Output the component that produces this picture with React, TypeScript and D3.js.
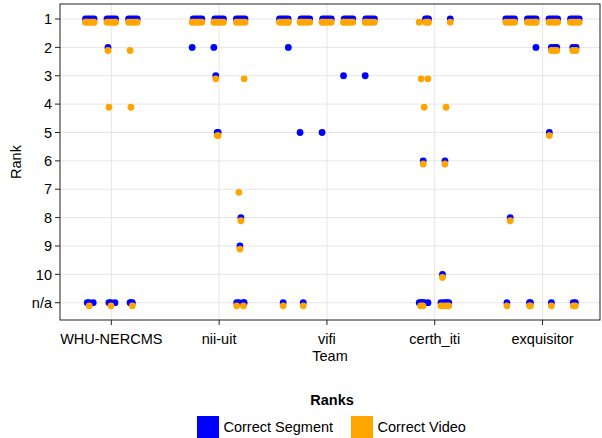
import React from "react";
import * as d3 from "d3";

// categories
const teams = ["WHU-NERCMS", "nii-uit", "vifi", "certh_iti", "exquisitor"];
const runsPerTeam = [3, 3, 5, 2, 4];
const rankTicks = ["1", "2", "3", "4", "5", "6", "7", "8", "9", "10", "n/a"];
const NA = 11;

const seriesNames = ["Correct Segment", "Correct Video"];
const seriesColors = ["#0000ff", "#ffa500"];

// every run has a bunch of tasks found at rank 1
const rank1Jitter = [-0.04, -0.02, 0, 0.02, 0.04];

// [run, jitter, segment rank, video rank]
const whuTasks = [
  [0, -0.023, NA, 1], [0, -0.005, NA, NA], [0, 0.032, NA, 1],
  [1, -0.031, 2, 2], [1, -0.022, NA, 4], [1, -0.003, NA, NA], [1, 0.034, NA, 1],
  [2, -0.026, NA, 2], [2, -0.018, NA, 4], [2, -0.005, NA, NA],
];
const niiTasks = [
  [0, -0.05, 2, 1],
  [1, -0.049, 2, 1], [1, -0.031, 3, 3], [1, -0.018, 5, 5], [1, -0.009, 5, 5],
  [2, 0.032, NA, 3], [2, -0.017, NA, 7], [2, 0.002, 8, 8], [2, -0.007, 9, 9],
  [2, -0.037, NA, NA], [2, 0.025, NA, NA],
];
const vifiTasks = [
  [0, 0.042, 2, 1], [0, -0.006, NA, NA],
  [1, -0.049, 5, 1], [1, -0.02, NA, NA],
  [2, -0.045, 5, 1],
  [3, -0.046, 3, 1],
  [4, -0.045, 3, 1],
];
const certhTasks = [
  [0, -0.044, NA, 1], [0, 0.014, 1, 1], [0, 0.03, 1, 1], [0, 0.042, 1, 1],
  [0, -0.026, NA, 3], [0, 0.037, NA, 3], [0, 0.002, NA, 4], [0, -0.007, 6, 6],
  [0, -0.031, NA, NA], [0, -0.009, NA, NA],
  [1, 0.044, 1, 1], [1, 0.005, NA, 4], [1, -0.005, 6, 6], [1, -0.028, 10, 10],
  [1, -0.042, NA, NA], [1, -0.014, NA, NA], [1, 0.014, NA, NA], [1, 0.03, NA, NA],
];
const exqTasks = [
  [0, 0, 8, 8], [0, -0.03, NA, NA],
  [1, 0.039, 2, 1], [1, -0.021, NA, NA], [1, -0.012, NA, NA],
  [2, -0.018, 2, 2], [2, 0.009, 2, 2], [2, 0.032, 2, 2], [2, -0.037, 5, 5], [2, -0.018, NA, NA],
  [3, -0.019, 2, 2], [3, 0.011, 2, 2], [3, -0.015, NA, NA], [3, 0.004, NA, NA],
];
const teamTasks = [whuTasks, niiTasks, vifiTasks, certhTasks, exqTasks];

const W = 602;
const H = 438;
const plot = { left: 60, right: 600, top: 4, bottom: 320 };
const font = "'Liberation Sans', Arial, Helvetica, sans-serif";
const dodgeWidth = 0.2;
const videoShift = 0.11;

export default function App() {
  const x = d3.scaleLinear().domain([0.524, 5.533]).range([plot.left, plot.right]);
  const y = d3.scaleLinear().domain([0.471, 11.609]).range([plot.top, plot.bottom]);

  // build the points
  const points: { x: number; seg: number; vid: number }[] = [];
  teams.forEach((team, ti) => {
    const nRuns = runsPerTeam[ti];
    for (let r = 0; r < nRuns; r++) {
      const center = ti + 1 + (r - (nRuns - 1) / 2) * dodgeWidth;
      if (!(ti === 3 && r === 0)) {
        rank1Jitter.forEach((j) => {
          if (ti === 3) return;
          points.push({ x: center + j, seg: 1, vid: 1 });
        });
      }
      teamTasks[ti]
        .filter((t) => t[0] === r)
        .forEach((t) => points.push({ x: center + t[1], seg: t[2], vid: t[3] }));
    }
  });

  const fs = 14.5;

  return (
    <svg
      width={W}
      height={H}
      style={{ position: "absolute", left: 0, top: 0, background: "#fff" }}
      fontFamily={font}
    >
      {/* grid */}
      {rankTicks.map((t, i) => (
        <line key={"gy" + t} x1={plot.left} x2={plot.right} y1={y(i + 1)} y2={y(i + 1)} stroke="#e6e6e6" />
      ))}
      {teams.map((t, i) => (
        <line key={"gx" + t} x1={x(i + 1)} x2={x(i + 1)} y1={plot.top} y2={plot.bottom} stroke="#e6e6e6" />
      ))}

      {/* points */}
      {points.map((p, i) => (
        <circle key={"s" + i} cx={x(p.x)} cy={y(p.seg)} r={3.4} fill={seriesColors[0]} />
      ))}
      {points.map((p, i) => (
        <circle key={"v" + i} cx={x(p.x)} cy={y(p.vid + videoShift)} r={3.4} fill={seriesColors[1]} />
      ))}

      {/* frame */}
      <rect
        x={plot.left}
        y={plot.top}
        width={plot.right - plot.left}
        height={plot.bottom - plot.top}
        fill="none"
        stroke="#222"
        strokeWidth={1}
      />

      {/* y axis */}
      {rankTicks.map((t, i) => (
        <g key={"ty" + t}>
          <line x1={plot.left - 5} x2={plot.left} y1={y(i + 1)} y2={y(i + 1)} stroke="#222" />
          <text x={plot.left - 8} y={y(i + 1)} dy="0.36em" textAnchor="end" fontSize={fs} fill="#000">
            {t}
          </text>
        </g>
      ))}
      <text
        transform={`translate(21, ${(plot.top + plot.bottom) / 2}) rotate(-90)`}
        textAnchor="middle"
        fontSize={fs}
      >
        Rank
      </text>

      {/* x axis */}
      {teams.map((t, i) => (
        <g key={"tx" + t}>
          <line x1={x(i + 1)} x2={x(i + 1)} y1={plot.bottom} y2={plot.bottom + 5} stroke="#222" />
          <text x={x(i + 1)} y={plot.bottom + 23.5} textAnchor="middle" fontSize={fs}>
            {t}
          </text>
        </g>
      ))}
      <text x={(plot.left + plot.right) / 2} y={361} textAnchor="middle" fontSize={fs}>
        Team
      </text>

      {/* legend */}
      <text x={332} y={405} textAnchor="middle" fontSize={fs} fontWeight="bold">
        Ranks
      </text>
      {seriesNames.map((name, i) => {
        const lx = i === 0 ? 197 : 351;
        return (
          <g key={name}>
            <rect x={lx} y={416} width={22} height={22} fill={seriesColors[i]} />
            <text x={lx + 26.5} y={431.5} fontSize={fs}>
              {name}
            </text>
          </g>
        );
      })}
    </svg>
  );
}
